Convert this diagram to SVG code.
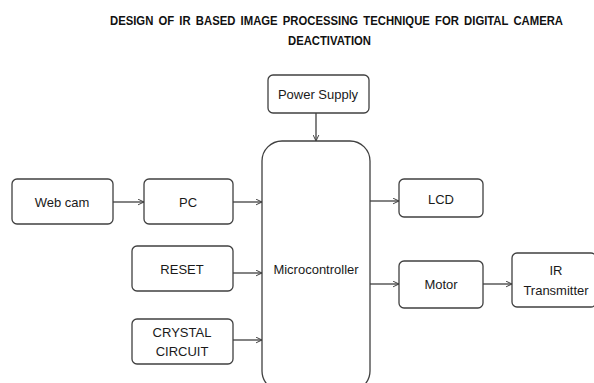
<svg xmlns="http://www.w3.org/2000/svg" width="594" height="383" viewBox="0 0 594 383">
<defs>
<style>
.box{fill:#fff;stroke:#404040;stroke-width:1.3}
.t{font-family:"Liberation Sans",Arial,sans-serif;font-size:13px;fill:#1a1a1a;text-anchor:middle}
.title{font-family:"Liberation Sans",Arial,sans-serif;font-size:11px;font-weight:bold;fill:#111;word-spacing:2px}
.c{stroke:#404040;stroke-width:1.3;fill:none;marker-end:url(#ah)}
</style>
<marker id="ah" viewBox="0 0 10 10" refX="9.5" refY="5" markerWidth="7" markerHeight="7" markerUnits="userSpaceOnUse" orient="auto">
<path d="M1,1 L9.5,5 L1,9" fill="none" stroke="#404040" stroke-width="1.4"/>
</marker>
</defs>
<rect width="594" height="383" fill="#fff"/>
<g id="title">
<text class="title" x="110" y="25" textLength="453" lengthAdjust="spacingAndGlyphs" transform="matrix(1,0,0,1.2,0,-5)">DESIGN OF IR BASED IMAGE PROCESSING TECHNIQUE FOR DIGITAL CAMERA</text>
<text class="title" x="288" y="45" textLength="83" lengthAdjust="spacingAndGlyphs" transform="matrix(1,0,0,1.2,0,-9)">DEACTIVATION</text>
</g>
<g id="connectors">
<line class="c" x1="316" y1="113" x2="316" y2="141"/>
<line class="c" x1="113" y1="202" x2="144" y2="202"/>
<line class="c" x1="233" y1="202" x2="262" y2="202"/>
<line class="c" x1="233" y1="273" x2="262" y2="273"/>
<line class="c" x1="233" y1="340" x2="262" y2="340"/>
<line class="c" x1="370" y1="201" x2="399" y2="201"/>
<line class="c" x1="370" y1="284" x2="399" y2="284"/>
<line class="c" x1="483" y1="284" x2="512" y2="284"/>
</g>
<g id="power-supply">
<rect class="box" x="268" y="75" width="101" height="38" rx="5"/>
<text class="t" x="318" y="99">Power Supply</text>
</g>
<g id="microcontroller">
<rect class="box" x="262" y="141" width="108" height="250" rx="20"/>
<text class="t" x="316" y="274">Microcontroller</text>
</g>
<g id="webcam">
<rect class="box" x="12" y="179" width="101" height="45" rx="5"/>
<text class="t" x="62" y="207">Web cam</text>
</g>
<g id="pc">
<rect class="box" x="144" y="179" width="89" height="45" rx="5"/>
<text class="t" x="188" y="207">PC</text>
</g>
<g id="reset">
<rect class="box" x="132" y="246" width="101" height="45" rx="5"/>
<text class="t" x="182" y="274">RESET</text>
</g>
<g id="crystal">
<rect class="box" x="132" y="319" width="101" height="45" rx="5"/>
<text class="t" x="182" y="337">CRYSTAL</text>
<text class="t" x="182" y="356">CIRCUIT</text>
</g>
<g id="lcd">
<rect class="box" x="399" y="179" width="84" height="38" rx="5"/>
<text class="t" x="441" y="204">LCD</text>
</g>
<g id="motor">
<rect class="box" x="399" y="261" width="84" height="47" rx="5"/>
<text class="t" x="441" y="289">Motor</text>
</g>
<g id="ir-transmitter">
<rect class="box" x="512" y="253" width="84" height="54" rx="5"/>
<text class="t" x="556" y="275">IR</text>
<text class="t" x="556" y="295">Transmitter</text>
</g>
</svg>
